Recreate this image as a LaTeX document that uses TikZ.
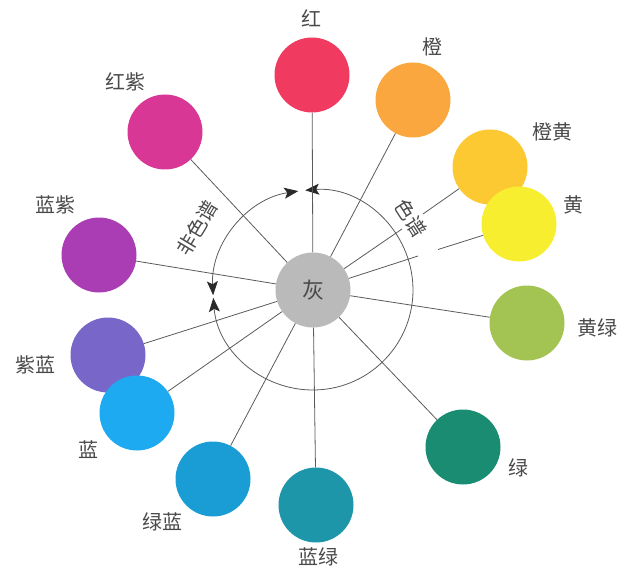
\documentclass[tikz,border=0pt]{standalone}
\usepackage{fontspec}
\newfontfamily\cjk{Noto Sans CJK SC}
\usetikzlibrary{arrows.meta}
\definecolor{cRed}{HTML}{F03A5F}
\definecolor{cOrange}{HTML}{F9A73E}
\definecolor{cOrangeYellow}{HTML}{FDC932}
\definecolor{cYellow}{HTML}{F8EE30}
\definecolor{cYellowGreen}{HTML}{A3C452}
\definecolor{cGreen}{HTML}{1A8C72}
\definecolor{cBlueGreen}{HTML}{1E96AA}
\definecolor{cGreenBlue}{HTML}{1A9CD4}
\definecolor{cBlue}{HTML}{1DAAF0}
\definecolor{cVioletBlue}{HTML}{7866C8}
\definecolor{cBlueViolet}{HTML}{AA3CB4}
\definecolor{cRedViolet}{HTML}{D83796}
\definecolor{cGray}{HTML}{BABABA}
\definecolor{lineGray}{HTML}{5A5A5A}
\definecolor{textGray}{HTML}{4A4A4A}
\definecolor{tipGray}{HTML}{2A2A2A}
\tikzset{
  swatch/.style={circle, draw=none, fill=#1, minimum size=75pt, inner sep=0pt},
  lab/.style={font=\cjk\fontsize{20}{20}\selectfont, text=textGray, inner sep=0pt},
  spoke/.style={draw=lineGray, line width=0.8pt},
  ring/.style={draw=lineGray, line width=0.8pt},
  ringtips/.style={arrows={Stealth[length=14pt,width=11pt,inset=3pt,color=tipGray]-Stealth[length=14pt,width=11pt,inset=3pt,color=tipGray]}}
}
\begin{document}
\begin{tikzpicture}[x=1pt,y=-1pt]
\useasboundingbox (0,0) rectangle (640,575);
% centre
\coordinate (ctr) at (313,290);
% ring
\draw[ring,ringtips] (ctr) ++(-98.5:100) arc[start angle=-98.5, end angle=-183, radius=100];
\draw[ring,ringtips] (ctr) ++(-94.5:100) arc[start angle=-94.5, end angle=175.5, radius=100];
% swatches
\node[swatch=cGray] (gray) at (313,290) {};
\node[font=\cjk\fontsize{22}{22}\selectfont, text=textGray] (grayl) at (313,290) {灰};
\node[swatch=cRed] (red) at (312,75) {};
\node[swatch=cOrange] (orange) at (413,100) {};
\node[swatch=cOrangeYellow] (oy) at (490,167) {};
\node[swatch=cYellow] (yellow) at (519,224) {};
\node[swatch=cYellowGreen] (yg) at (527,323) {};
\node[swatch=cGreen] (green) at (463,447) {};
\node[swatch=cBlueGreen] (bg) at (316,505) {};
\node[swatch=cGreenBlue] (gb) at (213,479) {};
\node[swatch=cVioletBlue] (vb) at (108,355) {};
\node[swatch=cBlue] (blue) at (137,413) {};
\node[swatch=cBlueViolet] (bv) at (99,255) {};
\node[swatch=cRedViolet] (rv) at (165,132) {};
% spokes
\draw[spoke] (red) -- (gray);
\draw[spoke] (orange) -- (gray);
\coordinate (oya) at (402,229);
\coordinate (oyb) at (423,214);
\draw[spoke] (oy) -- (oyb);
\draw[spoke] (oya) -- (gray);
\coordinate (ya) at (418,256);
\coordinate (yb) at (438,249.5);
\draw[spoke] (yellow) -- (yb);
\draw[spoke] (ya) -- (gray);
\draw[spoke] (yg) -- (gray);
\draw[spoke] (green) -- (gray);
\draw[spoke] (bg) -- (gray);
\draw[spoke] (gb) -- (gray);
\draw[spoke] (blue) -- (gray);
\draw[spoke] (vb) -- (gray);
\draw[spoke] (bv) -- (gray);
\draw[spoke] (rv) -- (gray);
% labels
\node[lab] (lred) at (311,18) {红};
\node[lab] (lorange) at (432,47) {橙};
\node[lab] (loy) at (552,132) {橙黄};
\node[lab] (lyellow) at (573,205) {黄};
\node[lab] (lyg) at (597,328) {黄绿};
\node[lab] (lgreen) at (518,468) {绿};
\node[lab] (lbg) at (318,557) {蓝绿};
\node[lab] (lgb) at (162,522) {绿蓝};
\node[lab] (lblue) at (88,450) {蓝};
\node[lab] (lvb) at (35,365) {紫蓝};
\node[lab] (lbv) at (55,205) {蓝紫};
\node[lab] (lrv) at (125,82) {红紫};
\node[lab, rotate=59] (lnon) at (197,228) {非色谱};
\node[lab, rotate=-57] (lspec) at (411,218) {色谱};
\end{tikzpicture}
\end{document}
